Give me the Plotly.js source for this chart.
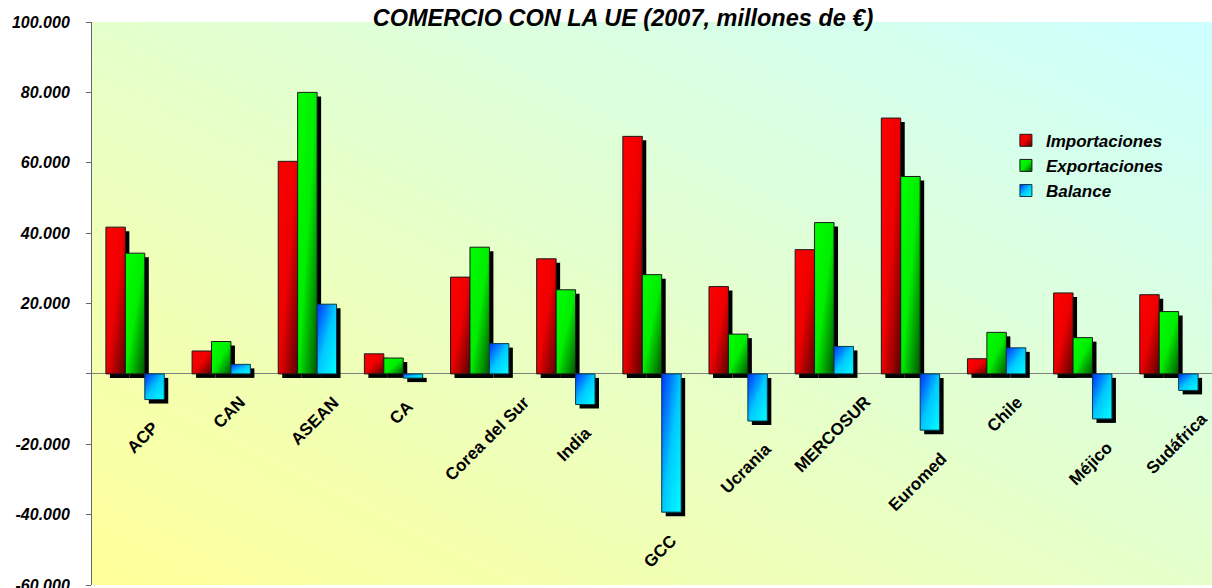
<!DOCTYPE html>
<html><head><meta charset="utf-8">
<script src="https://cdn.plot.ly/plotly-3.0.1.min.js"></script>
<style>html,body{margin:0;padding:0;background:#fff}#chart{width:1212px;height:588px}</style>
</head><body><div id="chart"></div>
<script>
const categories = ['ACP','CAN','ASEAN','CA','Corea del Sur','India','GCC','Ucrania','MERCOSUR','Euromed','Chile','Méjico','Sudáfrica'];
const importaciones = [41700, 6500, 60400, 5700, 27500, 32700, 67500, 24800, 35300, 72700, 4300, 23000, 22500];
const exportaciones = [34300, 9200, 80000, 4500, 36000, 23900, 28200, 11300, 43000, 56100, 11800, 10300, 17700];
const balance = [-7300, 2700, 19800, -1200, 8600, -8700, -39300, -13400, 7800, -16000, 7400, -12800, -4700];
const seriesNames = ['Importaciones','Exportaciones','Balance'];
const yTickValues = [-60000, -40000, -20000, 0, 20000, 40000, 60000, 80000, 100000];
const yTickLabels = ['-60.000', '-40.000', '-20.000', '', '20.000', '40.000', '60.000', '80.000', '100.000'];
const chartTitle = 'COMERCIO CON LA UE (2007, millones de €)';

const FONT = 'Arial, "Liberation Sans", sans-serif';

function makeBg() {
  const c = document.createElement('canvas');
  c.width = 256; c.height = 256;
  const g = c.getContext('2d');
  const gr = g.createLinearGradient(0, 256, 256, 0);
  gr.addColorStop(0, '#FFFF99');
  gr.addColorStop(1, '#CCFFFF');
  g.fillStyle = gr;
  g.fillRect(0, 0, 256, 256);
  return c.toDataURL();
}

const seriesValues = [importaciones, exportaciones, balance];
const legendColors = ['#E00000', '#00D000', '#0099FF'];
const outlineColors = ['#1a1a1a', '#1a1a1a', '#0a3a4a'];

const traces = seriesValues.map((vals, k) => ({
  type: 'bar',
  name: seriesNames[k],
  x: categories,
  y: vals,
  marker: { color: legendColors[k], line: { color: outlineColors[k], width: 1 } },
  hoverinfo: 'x+y+name'
}));

const annotations = categories.map((c, i) => ({
  x: c, y: Math.min(0, balance[i]), xref: 'x', yref: 'y',
  text: c, showarrow: false, textangle: -45,
  xanchor: 'center', yanchor: 'top', xshift: 8, yshift: -16,
  font: { family: FONT, size: 17, weight: 'bold', color: '#000' }
}));

const layout = {
  width: 1212, height: 588,
  margin: { l: 92, r: 0, t: 22, b: 3, pad: 0 },
  paper_bgcolor: '#ffffff',
  plot_bgcolor: 'rgba(0,0,0,0)',
  barmode: 'group', bargap: 0.323, bargroupgap: 0,
  title: {
    text: chartTitle, x: 0.514, xref: 'container', xanchor: 'center',
    y: 1 - 18 / 588, yref: 'container', yanchor: 'middle',
    font: { family: FONT, size: 23.5, weight: 'bold', style: 'italic', color: '#000' }
  },
  xaxis: {
    showticklabels: false, ticks: '', showline: false, showgrid: false, zeroline: false,
    range: [-0.5, 12.5]
  },
  yaxis: {
    range: [-60000, 100000], tickvals: yTickValues, ticktext: yTickLabels,
    showgrid: false, showline: true, linecolor: '#666666', linewidth: 1,
    ticks: 'outside', ticklen: 5, tickcolor: '#666666', ticklabelstandoff: 13,
    ticklabeloverflow: 'allow',
    zeroline: true, zerolinecolor: '#808080', zerolinewidth: 1,
    tickfont: { family: FONT, size: 16, weight: 'bold', style: 'italic', color: '#000' }
  },
  showlegend: true,
  legend: {
    x: 0.816, y: 0.821, xanchor: 'left', yanchor: 'top',
    bgcolor: 'rgba(0,0,0,0)', borderwidth: 0, tracegroupgap: 0,
    font: { family: FONT, size: 17, weight: 'bold', style: 'italic', color: '#000' }
  },
  annotations: annotations,
  images: [{
    source: makeBg(), xref: 'paper', yref: 'paper', x: 0, y: 1,
    sizex: 1, sizey: 1, sizing: 'stretch', layer: 'below', xanchor: 'left', yanchor: 'top'
  }]
};

Plotly.newPlot('chart', traces, layout, { displayModeBar: false, staticPlot: true }).then(gd => {
  const NS = 'http://www.w3.org/2000/svg';
  const svg = gd.querySelector('.main-svg');
  let defs = svg.querySelector('defs');
  if (!defs) { defs = document.createElementNS(NS, 'defs'); svg.insertBefore(defs, svg.firstChild); }
  const grads = [
    [['0', '#FF0000'], ['0.5', '#EE0000'], ['1', '#5A0000']],
    [['0', '#00FF00'], ['0.5', '#00EE00'], ['1', '#005400']],
    [['0', '#0030FF'], ['0.5', '#00C8FF'], ['1', '#00FFFF']]
  ];
  grads.forEach((stops, k) => {
    const lg = document.createElementNS(NS, 'linearGradient');
    lg.setAttribute('id', 'bargrad' + k);
    lg.setAttribute('x1', '0'); lg.setAttribute('y1', '0');
    lg.setAttribute('x2', '1'); lg.setAttribute('y2', '1');
    stops.forEach(([o, col]) => {
      const s = document.createElementNS(NS, 'stop');
      s.setAttribute('offset', o); s.setAttribute('stop-color', col);
      lg.appendChild(s);
    });
    defs.appendChild(lg);
  });
  gd.querySelectorAll('.barlayer .trace').forEach((tr, k) => {
    tr.querySelectorAll('.point path').forEach(p => {
      const sh = p.cloneNode(false);
      sh.style.fill = '#000';
      sh.style.fillOpacity = '1';
      sh.style.stroke = 'none';
      sh.setAttribute('transform', 'translate(4,4)');
      p.parentNode.insertBefore(sh, p);
      p.style.fill = 'url(#bargrad' + k + ')';
    });
  });
  gd.querySelectorAll('.legend .traces').forEach((tr, k) => {
    tr.querySelectorAll('.legendpoints path').forEach(p => {
      p.style.fill = 'url(#bargrad' + k + ')';
    });
  });
});
</script>
</body></html>
